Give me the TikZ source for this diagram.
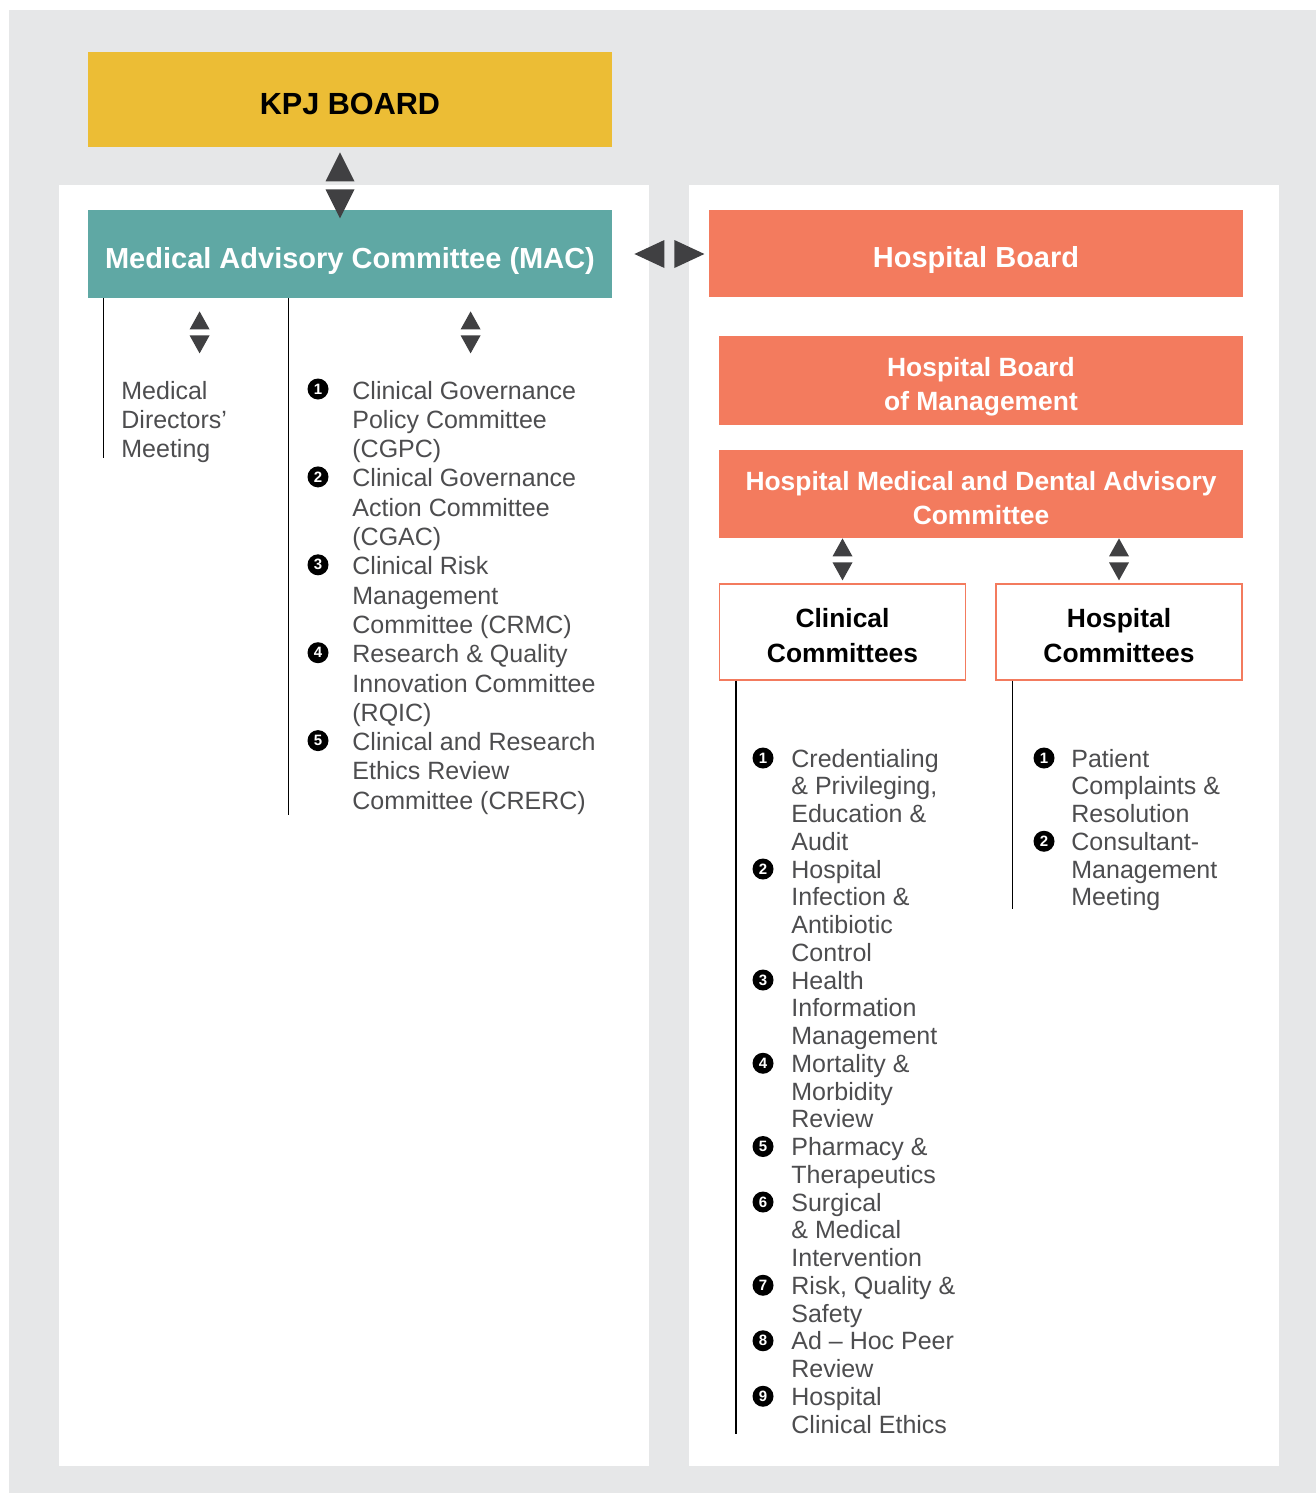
\documentclass[tikz,border=0pt]{standalone}
\usepackage{fontspec}
\setmainfont{Liberation Sans}
\usepackage{xcolor}
\usetikzlibrary{calc}
\definecolor{bggray}{HTML}{E6E7E8}
\definecolor{kpjyellow}{HTML}{ECBD35}
\definecolor{macteal}{HTML}{5FA8A4}
\definecolor{hosporange}{HTML}{F37B5E}
\definecolor{arrowgray}{HTML}{404042}
\definecolor{itemgray}{HTML}{4D4D4F}
\newcommand{\lowstrut}{\rule{0pt}{\dimexpr0.73em+3.5pt\relax}}

\tikzset{
  box/.style={inner sep=0pt, align=center, text=white, text depth=0pt,
    font=\bfseries\fontsize{14.5}{17}\selectfont},
  smallbox/.style={box, font=\bfseries\fontsize{13.2}{17}\selectfont},
  subbox/.style={draw=hosporange, line width=0.6pt, fill=white, inner sep=0pt,
    align=center, text depth=0pt, minimum width=123pt, minimum height=48pt,
    font=\bfseries\fontsize{13.2}{17.5}\selectfont},
  badge/.style={circle, fill=black, text=white, inner sep=0pt, minimum size=10.5pt,
    font=\bfseries\fontsize{7.5}{7.5}\selectfont},
  itemtext/.style={inner sep=0pt, align=left, anchor=base west, text=itemgray,
    font=\fontsize{12.5}{14.65}\selectfont},
  itemtight/.style={itemtext, font=\fontsize{12.5}{13.875}\selectfont},
  vline/.style={line width=0.7pt, black},
  bigv/.pic={
    \fill[arrowgray] (-14.5,-4) -- (14.5,-4) -- (0,-33) -- cycle;
    \fill[arrowgray] (-14.5,4) -- (14.5,4) -- (0,33) -- cycle;
  },
  smallv/.pic={
    \fill[arrowgray] (-10,-3) -- (10,-3) -- (0,-21) -- cycle;
    \fill[arrowgray] (-10,3) -- (10,3) -- (0,21) -- cycle;
  },
  bigh/.pic={
    \fill[arrowgray] (-5,-14) -- (-5,14) -- (-35,0) -- cycle;
    \fill[arrowgray] (5,-14) -- (5,14) -- (35,0) -- cycle;
  }
}

\begin{document}
\begin{tikzpicture}[x=0.5pt,y=-0.5pt]
  \useasboundingbox (0,0) rectangle (1316,1493);
  % background and panels
  \fill[bggray] (9,10) rectangle (1316,1493);
  \fill[white] (59,185) rectangle (649,1466);
  \fill[white] (689,185) rectangle (1279,1466);

  % boards and committees
  \node[box, fill=kpjyellow, text=black, minimum width=262pt, minimum height=47.5pt,
    font=\bfseries\fontsize{15.3}{18}\selectfont] (kpj) at (350,99.5) {\lowstrut KPJ BOARD};
  \node[box, fill=macteal, minimum width=262pt, minimum height=44pt]
    (mac) at (350,254) {\lowstrut Medical Advisory Committee (MAC)};
  \node[box, fill=hosporange, minimum width=267pt, minimum height=43.5pt]
    (hb) at (976,253.5) {\lowstrut Hospital Board};
  \node[smallbox, fill=hosporange, minimum width=262pt, minimum height=44.5pt]
    (hbm) at (981,380.5) {\lowstrut Hospital Board\\of Management};
  \node[smallbox, fill=hosporange, minimum width=262pt, minimum height=44pt]
    (hmdac) at (981,494) {\lowstrut Hospital Medical and Dental Advisory\\Committee};
  \node[subbox] (clin) at (842.5,632) {\lowstrut Clinical\\Committees};
  \node[subbox] (hosp) at (1119,632) {\lowstrut Hospital\\Committees};

  % arrows
  \pic at ($(kpj.south)+(-10,38)$) {bigv};
  \pic at ($(mac.east)+(57,0)$) {bigh};
  \pic at ($(mac.south west)+(112,34)$) {smallv};
  \pic at ($(mac.south west)+(383,34)$) {smallv};
  \pic at ($(clin.north)+(0,-24)$) {smallv};
  \pic at ($(hosp.north)+(0,-24)$) {smallv};

  % bracket lines
  \draw[vline] ($(mac.south west)+(16,0)$) -- ++(0,160);
  \draw[vline] ($(mac.south west)+(201,0)$) -- ++(0,517);
  \draw[vline] ($(clin.south west)+(17,0)$) -- ++(0,753);
  \draw[vline] ($(hosp.south west)+(17,0)$) -- ++(0,228);

  % MAC lists (node base = last line)
  \node[itemtext] (mdm) at (121,457.6) {Medical\\Directors’\\Meeting};
  \foreach \n/\txt in {1/{Clinical Governance\\Policy Committee\\(CGPC)},
      2/{Clinical Governance\\Action Committee\\(CGAC)},
      3/{Clinical Risk\\Management\\Committee (CRMC)},
      4/{Research \& Quality\\Innovation Committee\\(RQIC)},
      5/{Clinical and Research\\Ethics Review\\Committee (CRERC)}}{
    \pgfmathsetmacro\yb{399+87.9*(\n-1)}
    \node[badge] (cg\n) at (318,\yb-10) {\n};
    \node[itemtext] (cgt\n) at (352,\yb+58.6) {\txt};
  }

  % clinical committees list
  \foreach \n/\k/\l/\txt in {1/0/4/{Credentialing\\\& Privileging,\\Education \&\\Audit},
      2/4/4/{Hospital\\Infection \&\\Antibiotic\\Control},
      3/8/3/{Health\\Information\\Management},
      4/11/3/{Mortality \&\\Morbidity\\Review},
      5/14/2/{Pharmacy \&\\Therapeutics},
      6/16/3/{Surgical\\\& Medical\\Intervention},
      7/19/2/{Risk, Quality \&\\Safety},
      8/21/2/{Ad – Hoc Peer\\Review},
      9/23/2/{Hospital\\Clinical Ethics}}{
    \pgfmathsetmacro\yb{767+27.75*\k}
    \pgfmathsetmacro\yl{\yb+27.75*(\l-1)}
    \node[badge] (cc\n) at (763,\yb-9) {\n};
    \node[itemtight] (cct\n) at (791,\yl) {\txt};
  }

  % hospital committees list
  \foreach \n/\k/\txt in {1/0/{Patient\\Complaints \&\\Resolution},
      2/3/{Consultant-\\Management\\Meeting}}{
    \pgfmathsetmacro\yb{767+27.75*\k}
    \node[badge] (hc\n) at (1044,\yb-9) {\n};
    \node[itemtight] (hct\n) at (1071,\yb+55.5) {\txt};
  }
\end{tikzpicture}
\end{document}
